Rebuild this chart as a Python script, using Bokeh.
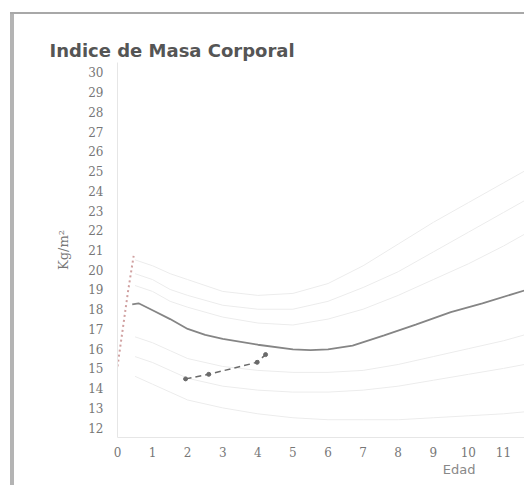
from bokeh.plotting import figure
from bokeh.models import Range1d, FixedTicker, Title
from bokeh.embed import file_html
from bokeh.resources import INLINE

# ---- data ----
x_ticks = [0, 1, 2, 3, 4, 5, 6, 7, 8, 9, 10, 11]
y_ticks = list(range(12, 31))

# main (highlighted) reference curve
ages_main = [0.42, 0.6, 1.0, 1.5, 2.0, 2.5, 3.0, 4.0, 5.0, 5.5, 6.0, 6.7, 7.6, 8.5, 9.5, 10.4, 11.6]
bmi_main = [18.25, 18.3, 17.95, 17.5, 17.0, 16.7, 16.5, 16.2, 15.97, 15.93, 15.96, 16.16, 16.67, 17.22, 17.85, 18.3, 18.95]

# faint percentile curves
ages_pct = [0.5, 1, 1.5, 2, 3, 4, 5, 6, 7, 8, 9, 10, 11, 11.6]
pct_hi3 = [20.5, 20.2, 19.8, 19.5, 18.9, 18.7, 18.8, 19.3, 20.2, 21.3, 22.4, 23.4, 24.4, 25.0]
pct_hi2 = [19.8, 19.5, 19.0, 18.7, 18.2, 18.0, 18.0, 18.4, 19.1, 19.9, 20.9, 21.9, 22.9, 23.5]
pct_hi1 = [19.2, 18.9, 18.4, 18.1, 17.6, 17.3, 17.2, 17.5, 18.0, 18.7, 19.5, 20.3, 21.2, 21.8]
pct_lo1 = [16.6, 16.3, 15.9, 15.5, 15.1, 14.9, 14.8, 14.8, 14.9, 15.2, 15.6, 16.0, 16.4, 16.7]
pct_lo2 = [15.6, 15.3, 14.9, 14.5, 14.1, 13.9, 13.8, 13.8, 13.9, 14.1, 14.4, 14.7, 15.0, 15.2]
pct_lo3 = [14.6, 14.2, 13.8, 13.4, 13.0, 12.7, 12.5, 12.4, 12.4, 12.4, 12.5, 12.6, 12.7, 12.8]

# early (0-6 months) dotted segment
ages_birth = [0.0, 0.15, 0.3, 0.46]
bmi_birth = [15.1, 17.0, 18.9, 20.7]

# patient measurements
ages_pac = [1.94, 2.6, 3.98, 4.22]
bmi_pac = [14.47, 14.7, 15.31, 15.70]

p = figure(width=524, height=485, output_backend="svg", toolbar_location=None,
           x_range=Range1d(0, 11.6), y_range=Range1d(11.5, 30.5),
           min_border_left=117, min_border_right=0, min_border_top=62, min_border_bottom=48)
p.outline_line_color = None
p.background_fill_color = "white"
p.border_fill_alpha = 0
p.styles = {
    "background": "linear-gradient(#a8a8a8,#a8a8a8) 10px 12px / 514px 2px no-repeat, "
                  "linear-gradient(#b4b4b4,#b4b4b4) 10px 12px / 4px 473px no-repeat, white",
}
p.xgrid.grid_line_color = None
p.ygrid.grid_line_color = None

p.title.text = "Indice de Masa Corporal"
p.title.align = "left"
p.title.offset = -68
p.title.text_font = "DejaVu Sans"
p.title.text_font_size = "18px"
p.title.text_font_style = "bold"
p.title.text_color = "#555555"
p.title.standoff = 3

for vals in [pct_hi3, pct_hi2, pct_hi1, pct_lo1, pct_lo2, pct_lo3]:
    p.line(ages_pct, vals, line_color="#ececec", line_width=1)

p.line(ages_birth, bmi_birth, line_color="#d0a0a0", line_width=2, line_dash="2 3")
p.line(ages_main, bmi_main, line_color="#858585", line_width=1.8)
p.line(ages_pac, bmi_pac, line_color="#6a6a6a", line_width=1.5, line_dash="6 4")
p.scatter(ages_pac, bmi_pac, size=4, color="#6a6a6a")

# axes
for ax in (p.xaxis[0], p.yaxis[0]):
    ax.axis_line_color = "#e6e6e6"
    ax.major_tick_line_color = None
    ax.minor_tick_line_color = None
    ax.major_label_text_font = "DejaVu Serif"
    ax.major_label_text_font_size = "12px"
    ax.major_label_text_color = "#777777"
p.xaxis.ticker = FixedTicker(ticks=x_ticks)
p.yaxis.ticker = FixedTicker(ticks=y_ticks)
p.xaxis.major_label_standoff = 3
p.yaxis.major_label_standoff = 8
p.yaxis.axis_label = "Kg/m²"
p.yaxis.axis_label_text_font = "DejaVu Serif"
p.yaxis.axis_label_text_font_style = "normal"
p.yaxis.axis_label_text_font_size = "13px"
p.yaxis.axis_label_text_color = "#777777"
p.yaxis.axis_label_standoff = 14

p.add_layout(Title(text="Edad", align="right", offset=49, standoff=0,
                   text_font="DejaVu Sans", text_font_size="13px",
                   text_font_style="normal", text_color="#888888"), "below")

open("out.html", "w").write(file_html(p, INLINE))
